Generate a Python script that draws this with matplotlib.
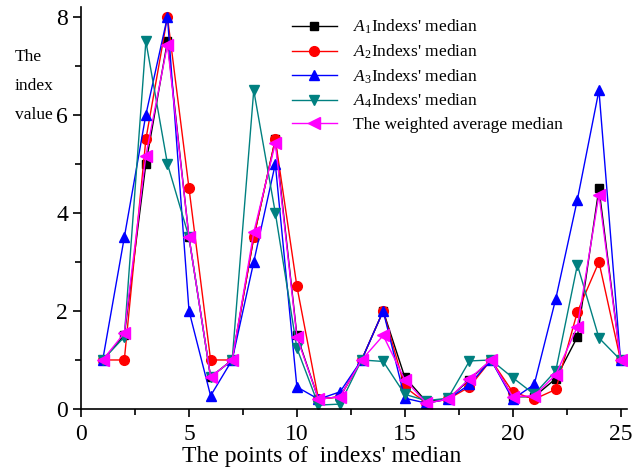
import matplotlib
matplotlib.use('Agg')
import matplotlib.pyplot as plt
from matplotlib.ticker import MultipleLocator

plt.rcParams['font.family'] = 'Liberation Serif'
plt.rcParams['mathtext.fontset'] = 'custom'
plt.rcParams['mathtext.rm'] = 'Liberation Serif'
plt.rcParams['mathtext.it'] = 'Liberation Serif:italic'

# points 1..25
points = list(range(1, 26))

a1 = [1, 1.5, 5, 7.5, 3.5, 0.65, 1, 3.5, 5.5, 1.5, 0.2, 0.25, 1, 2, 0.65,
      0.15, 0.2, 0.6, 1, 0.25, 0.25, 0.62, 1.47, 4.5, 1]
a2 = [1, 1, 5.5, 8, 4.5, 1, 1, 3.5, 5.5, 2.5, 0.2, 0.25, 1, 2, 0.45,
      0.12, 0.2, 0.45, 1, 0.35, 0.2, 0.4, 1.98, 3, 1]
a3 = [1, 3.5, 6, 8, 2, 0.27, 1, 3, 5, 0.45, 0.2, 0.35, 1, 2, 0.22,
      0.12, 0.2, 0.5, 1, 0.2, 0.5, 2.25, 4.27, 6.5, 1]
a4 = [1, 1.47, 7.5, 5, 3.5, 0.65, 1, 6.5, 4, 1.24, 0.08, 0.1, 1, 0.97, 0.3,
      0.17, 0.22, 0.98, 1, 0.64, 0.3, 0.78, 2.94, 1.45, 1]
weighted = [1, 1.55, 5.17, 7.43, 3.5, 0.65, 1, 3.6, 5.42, 1.47, 0.2, 0.25, 1, 1.5, 0.6,
            0.12, 0.2, 0.62, 1, 0.25, 0.27, 0.7, 1.68, 4.37, 1]

fig = plt.figure(figsize=(6.44, 4.73), dpi=100)
ax = fig.add_axes([0.126, 0.1353, 0.8476, 0.85])

ax.plot(points, a1, color='black', marker='s', ms=6, lw=1, label="$A_1$Indexs' median")
ax.plot(points, a2, color='red', marker='o', ms=7, lw=1, label="$A_2$Indexs' median")
ax.plot(points, a3, color='blue', marker='^', ms=7.5, lw=1, label="$A_3$Indexs' median")
ax.plot(points, a4, color='#008080', marker='v', ms=7.5, lw=1, label="$A_4$Indexs' median")
ax.plot(points, weighted, color='magenta', marker='<', ms=8, lw=1, label='The weighted average median')

ax.set_xlim(0, 25.3)
ax.set_ylim(0, 8.2)
ax.xaxis.set_major_locator(MultipleLocator(5))
ax.xaxis.set_minor_locator(MultipleLocator(2.5))
ax.yaxis.set_major_locator(MultipleLocator(2))
ax.yaxis.set_minor_locator(MultipleLocator(1))
ax.tick_params(which='major', direction='out', length=6, width=1.2, labelsize=17)
ax.tick_params(axis='x', which='major', pad=5)
ax.tick_params(which='minor', direction='out', length=4, width=1.2)
ax.spines['top'].set_visible(False)
ax.spines['right'].set_visible(False)
ax.spines['left'].set_linewidth(1.2)
ax.spines['bottom'].set_linewidth(1.2)

fig.text(0.5, 0.012, "The points of  indexs' median", fontsize=17, ha='center', va='bottom')
fig.text(0.023, 0.897, 'The\nindex\nvalue', fontsize=12.5, va='top', ha='left', linespacing=2.1)

ax.legend(loc='upper left', bbox_to_anchor=(0.429, 0.995), bbox_transform=fig.transFigure,
          frameon=False, fontsize=12.5, handlelength=2.6, labelspacing=0.36, handletextpad=0.9)

fig.savefig('out.png', dpi=100)
